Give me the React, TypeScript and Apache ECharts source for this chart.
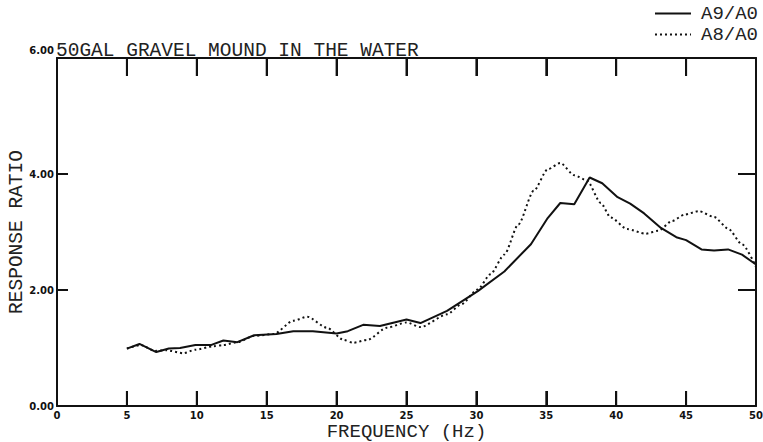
import React, { useEffect, useRef } from "react";
import * as echarts from "echarts";

// Frequency (Hz) sample points and response ratios for each channel pair
const freqA9 = [5.0, 5.9, 7.1, 8.0, 8.8, 9.9, 11.0, 11.9, 12.9, 14.1, 15.7, 16.9, 18.3, 20.0, 20.8, 21.9, 23.1, 25.0, 26.0, 27.9, 30.1, 32.0, 33.9, 35.1, 36.0, 37.0, 38.1, 39.0, 40.1, 41.0, 42.0, 43.2, 44.3, 45.0, 46.1, 47.0, 48.0, 49.0, 50.0];
const ratioA9 = [0.99, 1.07, 0.93, 0.99, 1.0, 1.05, 1.05, 1.13, 1.1, 1.22, 1.24, 1.29, 1.29, 1.25, 1.29, 1.4, 1.38, 1.49, 1.43, 1.64, 1.98, 2.32, 2.79, 3.24, 3.5, 3.48, 3.94, 3.84, 3.6, 3.49, 3.32, 3.07, 2.91, 2.86, 2.7, 2.68, 2.7, 2.61, 2.44];

const freqA8 = [5.0, 6.0, 7.0, 7.85, 9.05, 9.9, 11.2, 11.9, 12.9, 14.1, 15.5, 16.9, 17.9, 19.3, 20.5, 21.2, 22.2, 23.6, 25.0, 26.0, 27.9, 28.9, 30.1, 31.0, 32.0, 33.0, 34.1, 35.1, 36.0, 37.0, 37.9, 38.9, 39.6, 40.8, 42.1, 43.0, 44.0, 44.9, 45.9, 47.0, 48.0, 49.0, 50.0];
const ratioA8 = [0.99, 1.05, 0.95, 0.96, 0.91, 0.97, 1.03, 1.05, 1.1, 1.21, 1.24, 1.47, 1.54, 1.35, 1.14, 1.09, 1.14, 1.35, 1.44, 1.36, 1.58, 1.75, 2.01, 2.27, 2.61, 3.13, 3.71, 4.08, 4.19, 3.98, 3.89, 3.5, 3.25, 3.05, 2.97, 3.02, 3.19, 3.3, 3.36, 3.26, 3.06, 2.79, 2.4];

const seriesNames = ["A9/A0", "A8/A0"];
const titleText = "50GAL GRAVEL MOUND IN THE WATER";
const xAxisTitle = "FREQUENCY (Hz)";
const yAxisTitle = "RESPONSE RATIO";

// Axis ranges and tick spacing
const xMin = 0;
const xMax = 50;
const xStep = 5;
const yMin = 0;
const yMax = 6;
const yStep = 2;

// Interior tick positions (frame corners carry no separate tick)
const xInnerTicks = [5, 10, 15, 20, 25, 30, 35, 40, 45];
const yInnerTicks = [2, 4];

const INK = "#111";
const PLOT_FONT = "'Liberation Mono', 'DejaVu Sans Mono', monospace";
const TICK_FONT = "'DejaVu Sans', sans-serif";

export default function App() {
  const ref = useRef<HTMLDivElement>(null);

  useEffect(() => {
    if (!ref.current) return;
    const chart = echarts.init(ref.current, null, { renderer: "svg" });

    const pairs = (xs: number[], ys: number[]) => xs.map((x, i) => [x, ys[i]]);

    const frameLine = { show: true, onZero: false, lineStyle: { color: INK, width: 2 } };
    const tick = (length: number) => ({
      show: true,
      inside: true,
      length,
      lineStyle: { color: INK, width: 2 },
    });

    chart.setOption({
      animation: false,
      backgroundColor: "#fff",
      title: {
        text: titleText,
        left: 56,
        top: 41,
        padding: 0,
        textStyle: { fontFamily: PLOT_FONT, fontSize: 19.5, fontWeight: "normal", color: "#222" },
      },
      legend: {
        orient: "vertical",
        right: 5,
        top: 4,
        padding: 0,
        itemGap: 2,
        itemWidth: 36,
        itemHeight: 10,
        align: "left",
        itemStyle: { opacity: 0 },
        textStyle: {
          fontFamily: PLOT_FONT,
          fontSize: 19,
          lineHeight: 18,
          color: "#222",
          padding: [0, 0, 0, 5],
        },
        data: seriesNames,
      },
      grid: { left: 57, right: 7, top: 58, bottom: 36, containLabel: false, outerBoundsMode: "none" },
      xAxis: [
        {
          type: "value",
          min: xMin,
          max: xMax,
          interval: xStep,
          position: "bottom",
          name: xAxisTitle,
          nameLocation: "middle",
          nameGap: 18,
          nameMoveOverlap: false,
          nameTextStyle: { fontFamily: PLOT_FONT, fontSize: 19, lineHeight: 16, color: "#222" },
          axisLine: frameLine,
          axisTick: tick(15),
          axisLabel: { fontFamily: TICK_FONT, fontSize: 10, fontWeight: "bold", color: INK, margin: 4 },
          splitLine: { show: false },
        },
        {
          type: "value",
          min: xMin,
          max: xMax,
          interval: xStep,
          position: "top",
          axisLine: frameLine,
          axisTick: tick(18),
          axisLabel: { show: false },
          splitLine: { show: false },
        },
      ],
      yAxis: [
        {
          type: "value",
          min: yMin,
          max: yMax,
          interval: yStep,
          position: "left",
          name: yAxisTitle,
          nameLocation: "middle",
          nameGap: 30,
          nameRotate: 90,
          nameMoveOverlap: false,
          nameTextStyle: { fontFamily: PLOT_FONT, fontSize: 19.5, color: "#222" },
          axisLine: frameLine,
          axisTick: tick(11),
          axisLabel: {
            fontFamily: TICK_FONT,
            fontSize: 10,
            fontWeight: "bold",
            color: INK,
            margin: 3,
            formatter: (v: number) => (v === yMax ? "{up|" + v.toFixed(2) + "}" : v.toFixed(2)),
            rich: {
              up: { fontFamily: TICK_FONT, fontSize: 10, fontWeight: "bold", color: INK, padding: [0, 0, 16, 0] },
            },
          },
          splitLine: { show: false },
        },
        {
          type: "value",
          min: yMin,
          max: yMax,
          interval: yStep,
          position: "right",
          axisLine: frameLine,
          axisTick: tick(18),
          axisLabel: { show: false },
          splitLine: { show: false },
        },
      ],
      series: [
        {
          name: seriesNames[0],
          type: "line",
          data: pairs(freqA9, ratioA9),
          symbol: "none",
          lineStyle: { color: INK, width: 2 },
          itemStyle: { color: INK },
        },
        {
          name: seriesNames[1],
          type: "line",
          data: pairs(freqA8, ratioA8),
          symbol: "none",
          smooth: 0.25,
          smoothMonotone: "x",
          lineStyle: { color: INK, width: 2, type: [2, 3] },
          itemStyle: { color: INK },
        },
      ],
    });

    // Inward frame ticks, placed through the axes' own scales
    const px = (v: number) => chart.convertToPixel({ xAxisIndex: 0 }, v) as number;
    const py = (v: number) => chart.convertToPixel({ yAxisIndex: 0 }, v) as number;
    const yBottom = py(yMin);
    const yTop = py(yMax);
    const xLeft = px(xMin);
    const xRight = px(xMax);
    const seg = (x1: number, y1: number, x2: number, y2: number) => ({
      type: "line",
      silent: true,
      z: 10,
      shape: { x1, y1, x2, y2 },
      style: { stroke: INK, lineWidth: 2 },
    });
    const tickMarks: any[] = [];
    xInnerTicks.forEach((v) => {
      const x = px(v);
      tickMarks.push(seg(x, yBottom, x, yBottom - 15));
      tickMarks.push(seg(x, yTop, x, yTop + 18));
    });
    yInnerTicks.forEach((v) => {
      const y = py(v);
      tickMarks.push(seg(xLeft, y, xLeft + 11, y));
      tickMarks.push(seg(xRight, y, xRight - 18, y));
    });
    chart.setOption({ graphic: tickMarks });

    return () => chart.dispose();
  }, []);

  return <div ref={ref} style={{ position: "absolute", left: 0, top: 0, width: 763, height: 442 }} />;
}
